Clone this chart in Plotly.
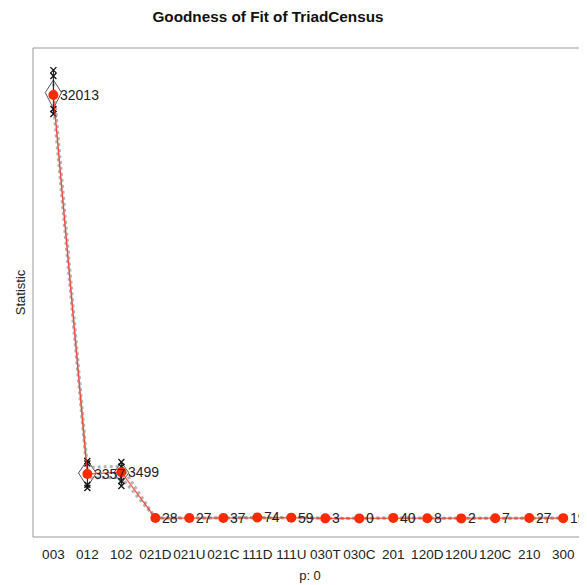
import plotly.graph_objects as go

cats = ["003", "012", "102", "021D", "021U", "021C", "111D", "111U",
        "030T", "030C", "201", "120D", "120U", "120C", "210", "300"]
obs = [32013, 3357, 3499, 28, 27, 37, 74, 59, 3, 0, 40, 8, 2, 7, 27, 19]

# simulated 5% / 95% percentile bands
sim_p05 = [31300, 3050, 3100, 18, 18, 25, 52, 40, 1, 0, 26, 3, 0, 3, 16, 11]
sim_p95 = [32900, 3850, 3950, 42, 42, 52, 98, 82, 8, 3, 58, 15, 6, 14, 40, 29]

# violin extent (low, widest, high) and half width
vio_lo = [31000, 2374, 2650, 20, 20, 28, 55, 44, 1, 0, 28, 4, 1, 4, 18, 12]
vio_mid = [32200, 3433, 3450, 28, 27, 37, 74, 59, 3, 1, 40, 8, 3, 7, 27, 19]
vio_hi = [33150, 4416, 4250, 38, 38, 48, 92, 76, 6, 2, 54, 13, 5, 11, 37, 27]
vio_w = [0.24, 0.26, 0.22] + [0.05] * 13

# whisker end points (outer and inner caps)
wh_hi = [33900, 4340, 4265, 45, 44, 55, 100, 85, 9, 4, 62, 16, 7, 15, 42, 31]
wh_hi2 = [33450, 4150, 3900, 40, 40, 50, 95, 80, 7, 3, 56, 14, 6, 13, 39, 28]
wh_lo2 = [30960, 2550, 2830, 16, 16, 24, 50, 38, 1, 0, 24, 3, 1, 3, 15, 10]
wh_lo = [30580, 2300, 2450, 12, 12, 20, 45, 34, 0, 0, 20, 2, 0, 2, 12, 8]

xs = list(range(len(cats)))
fig = go.Figure()

# violins
for i in xs:
    w = vio_w[i]
    fig.add_trace(go.Scatter(
        x=[i, i + w, i, i - w, i],
        y=[vio_hi[i], vio_mid[i], vio_lo[i], vio_mid[i], vio_hi[i]],
        mode="lines", fill="toself", fillcolor="rgba(255,255,255,0.6)",
        line=dict(color="#555555", width=1), hoverinfo="skip", showlegend=False))

# percentile bands
for band in (sim_p05, sim_p95):
    fig.add_trace(go.Scatter(
        x=xs, y=band, mode="lines",
        line=dict(color="rgba(150,150,150,0.7)", width=3, dash="3px,3px"),
        hoverinfo="skip", showlegend=False))

# whiskers
for i in xs:
    fig.add_trace(go.Scatter(
        x=[i, i], y=[wh_lo[i], wh_hi[i]], mode="lines",
        line=dict(color="#111111", width=1), hoverinfo="skip", showlegend=False))
fig.add_trace(go.Scatter(
    x=xs * 4, y=wh_hi + wh_hi2 + wh_lo2 + wh_lo, mode="markers",
    marker=dict(symbol="x-thin", size=6, line=dict(color="#111111", width=1.3)),
    hoverinfo="skip", showlegend=False))

# observed
fig.add_trace(go.Scatter(
    x=xs, y=obs, mode="lines+markers",
    line=dict(color="rgba(255,40,20,0.75)", width=1.3),
    marker=dict(color="#ff2a00", size=10),
    hoverinfo="skip", showlegend=False))

for i in xs:
    fig.add_annotation(x=i, y=obs[i], text=str(obs[i]), showarrow=False,
                       xanchor="left", yanchor="middle", xshift=5,
                       font=dict(size=14, color="#222222"))

fig.update_layout(
    width=579, height=577,
    margin=dict(l=25, r=0, t=40, b=48, autoexpand=False),
    paper_bgcolor="white", plot_bgcolor="white",
    font=dict(family="Liberation Sans, Arial, sans-serif", color="#111111"),
    title=dict(text="<b>Goodness of Fit of TriadCensus</b>", x=260 / 579,
               xref="container", xanchor="center", y=1 - 9 / 577,
               yref="container", yanchor="middle",
               font=dict(size=15.3, color="#111111")),
    xaxis=dict(range=[-0.6, 15.7], tickvals=xs, ticktext=cats, showgrid=False,
               zeroline=False, ticks="", ticklabelstandoff=7, tickangle=0,
               automargin=False,
               tickfont=dict(size=13.5, color="#222222"),
               title=dict(text="p: 0", font=dict(size=13, color="#222222"), standoff=10)),
    yaxis=dict(range=[-1406, 35570], showticklabels=False, showgrid=False,
               zeroline=False, ticks="", automargin=False,
               title=dict(text="Statistic", font=dict(size=13, color="#222222"), standoff=3)),
    shapes=[
        dict(type="line", xref="paper", yref="paper", x0=0, x1=0, y0=0, y1=1,
             line=dict(color="#999999", width=1)),
        dict(type="line", xref="paper", yref="paper", x0=0, x1=1, y0=1, y1=1,
             line=dict(color="#999999", width=1)),
        dict(type="line", xref="paper", yref="paper", x0=0, x1=1, y0=0, y1=0,
             line=dict(color="#999999", width=1)),
    ],
)

fig.write_html("out.html")
